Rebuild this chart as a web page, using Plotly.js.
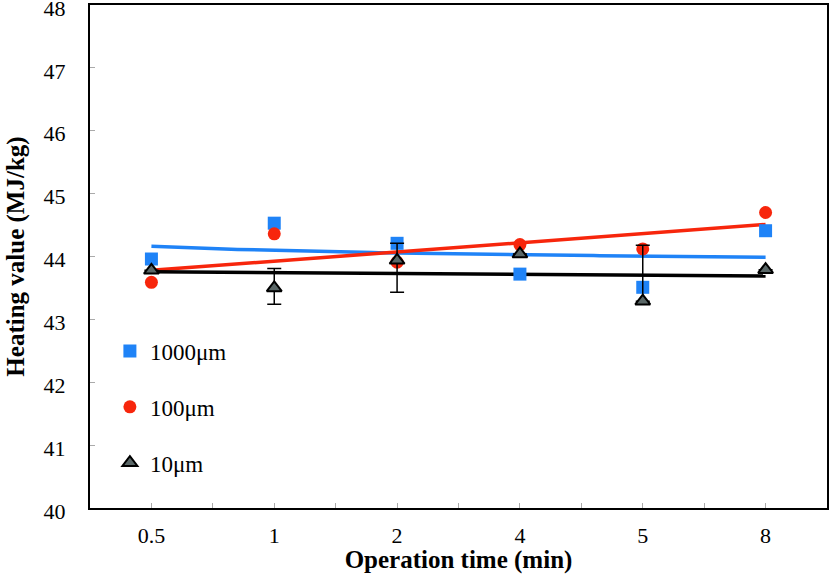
<!DOCTYPE html>
<html>
<head>
<meta charset="utf-8">
<script src="https://cdn.plot.ly/plotly-3.0.1.min.js"></script>
<style>
  html, body { margin: 0; padding: 0; background: #fff; }
  #chart { width: 829px; height: 574px; }
</style>
</head>
<body>
<div id="chart"></div>
<script>
// Operation times (min), drawn as evenly spaced categories
const timeLabels = ['0.5', '1', '2', '4', '5', '8'];

// Heating value (MJ/kg) by particle size
const hv1000 = [43.96, 44.53, 44.21, 43.72, 43.51, 44.41];
const hv100  = [43.59, 44.36, 43.91, 44.19, 44.12, 44.70];
const hv10   = [43.78, 43.50, 43.94, 44.04, 43.29, 43.79];

// Error bars on the 10 µm series (upper / lower)
const err10Plus  = [0, 0.31, 0.27, 0, 0.89, 0];
const err10Minus = [0, 0.26, 0.51, 0, 0, 0];

const seriesNames = ['1000\u03bcm', '100\u03bcm', '10\u03bcm'];

const BLUE = '#1f83f7';
const RED = '#f7260c';
const TRI_FILL = '#5a6767';

const idx = timeLabels.map((_, i) => i + 1);

// least-squares fit of y on f(x)
function fit(xs, ys, f) {
  const fx = xs.map(f);
  const n = xs.length;
  const mx = fx.reduce((a, b) => a + b, 0) / n;
  const my = ys.reduce((a, b) => a + b, 0) / n;
  let sxy = 0, sxx = 0;
  for (let i = 0; i < n; i++) {
    sxy += (fx[i] - mx) * (ys[i] - my);
    sxx += (fx[i] - mx) * (fx[i] - mx);
  }
  const a = sxy / sxx;
  const b = my - a * mx;
  return x => a * f(x) + b;
}

const logFit1000 = fit(idx, hv1000, Math.log);
const linFit100 = fit(idx, hv100, x => x);
const linFit10 = fit(idx, hv10, x => x);

const curveX = [];
for (let x = 1; x <= 6.0001; x += 0.05) curveX.push(+x.toFixed(2));

const traces = [
  { x: curveX, y: curveX.map(logFit1000), mode: 'lines', showlegend: false,
    line: { color: BLUE, width: 3.5 }, hoverinfo: 'skip' },
  { x: [1, 6], y: [linFit100(1), linFit100(6)], mode: 'lines', showlegend: false,
    line: { color: RED, width: 3.5 }, hoverinfo: 'skip' },
  { x: [1, 6], y: [linFit10(1), linFit10(6)], mode: 'lines', showlegend: false,
    line: { color: '#000', width: 3.5 }, hoverinfo: 'skip' },
  { x: idx, y: hv1000, mode: 'markers', name: seriesNames[0], legendgroup: 'a',
    marker: { symbol: 'square', size: 13, color: BLUE } },
  { x: idx, y: hv100, mode: 'markers', name: seriesNames[1], legendgroup: 'b',
    marker: { symbol: 'circle', size: 13, color: RED } },
  { x: idx, y: hv10, mode: 'markers', name: seriesNames[2], legendgroup: 'c',
    marker: { symbol: 'triangle-up', size: 13, color: TRI_FILL,
              line: { color: '#000', width: 2 } },
    error_y: { type: 'data', symmetric: false, array: err10Plus, arrayminus: err10Minus,
               color: '#000', thickness: 1.5, width: 7 } }
];

const FAMILY = 'Liberation Serif, Times New Roman, serif';
const f = size => ({ family: FAMILY, size: size, color: '#000' });

const layout = {
  width: 829, height: 574,
  margin: { l: 90, r: 2, t: 5, b: 66 },
  paper_bgcolor: '#fff', plot_bgcolor: '#fff',
  font: f(22),
  showlegend: true,
  legend: {
    x: 0.027, y: 0.355, xanchor: 'left', yanchor: 'top',
    bgcolor: 'rgba(0,0,0,0)', tracegroupgap: 23,
    font: f(23),
    itemwidth: 30
  },
  xaxis: {
    range: [0.5, 6.5],
    tickmode: 'array',
    tickvals: [1, 1.5, 2, 2.5, 3, 3.5, 4, 4.5, 5, 5.5, 6],
    ticktext: [timeLabels[0], '', timeLabels[1], '', timeLabels[2], '', timeLabels[3], '', timeLabels[4], '', timeLabels[5]],
    ticks: 'inside', ticklen: 5, tickcolor: '#aaa', tickwidth: 1,
    ticklabelstandoff: 7,
    showline: true, linecolor: '#000', linewidth: 2, mirror: true,
    showgrid: false, zeroline: false,
    tickfont: f(22),
    title: { text: '<b>Operation time (min)</b>', font: f(25), standoff: 0 }
  },
  yaxis: {
    range: [40, 48], dtick: 1, tick0: 40,
    ticks: 'inside', ticklen: 5, tickcolor: '#aaa', tickwidth: 1,
    ticklabelstandoff: 18, ticklabeloverflow: 'allow', ticklabelshift: 3,
    showline: true, linecolor: '#000', linewidth: 2, mirror: true,
    showgrid: false, zeroline: false,
    tickfont: f(22),
    title: { text: '<b>Heating value (MJ/kg)</b>', font: f(25), standoff: 12 }
  }
};

Plotly.newPlot('chart', traces, layout, { displayModeBar: false, staticPlot: true });
</script>
</body>
</html>
